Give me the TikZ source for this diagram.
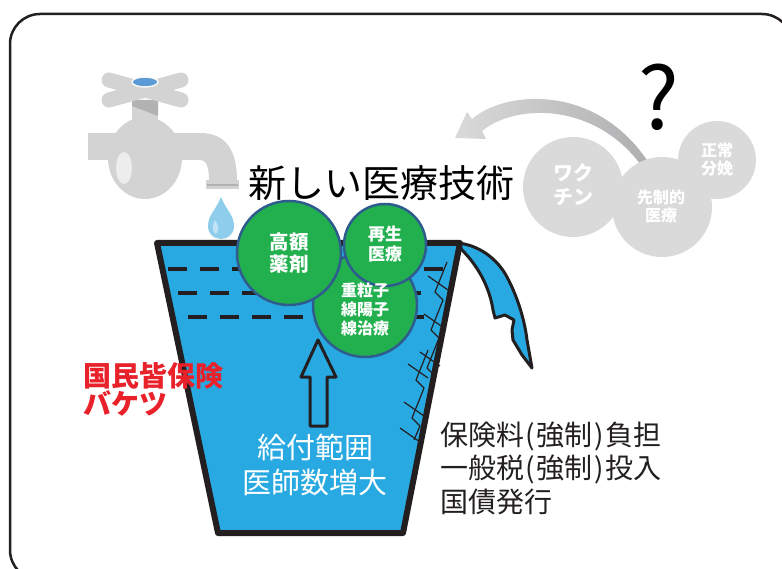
\documentclass[tikz,border=0pt]{standalone}
\usepackage{fontspec}
\setmainfont{Noto Sans CJK JP}

\definecolor{bucketblue}{HTML}{29A9E1}
\definecolor{pillgreen}{HTML}{22B04E}
\definecolor{pillrim}{HTML}{2F5C8E}
\definecolor{foggray}{HTML}{DADADB}
\definecolor{fogdark}{HTML}{AEAEB0}
\definecolor{tapgray}{HTML}{D3D3D3}
\definecolor{tapdark}{HTML}{B2B2B2}
\definecolor{tapblue}{HTML}{5B9BD5}
\definecolor{dropblue}{HTML}{8ECDEC}
\definecolor{alarmred}{HTML}{E8212B}
\definecolor{inkgray}{HTML}{231F20}

% 括弧の前後を少しあける
\newcommand{\lpar}{\kern1pt(\kern2pt}
\newcommand{\rpar}{\kern2pt)\kern1pt}

\tikzset{
  pill/.style={fill=pillgreen, draw=pillrim, line width=2.5pt},
  fog/.style={fill=foggray},
  pilltext/.style 2 args={text=white, align=center, font=\bfseries\fontsize{#1}{#2}\selectfont, inner sep=0pt},
  waterline/.style={draw=inkgray, line width=4pt, dash pattern=on 19pt off 13pt},
  crack/.style={draw=inkgray, line width=1.2pt}
}

\begin{document}
\begin{tikzpicture}[x=1pt, y=-1pt, line join=round]
    \useasboundingbox (0,0) rectangle (782,569);

    % 枠
    \draw[inkgray, line width=2.5pt, rounded corners=30pt] (10,14) rectangle (792,580);

    % 蛇口
    \fill[tapgray] (88,133) rectangle (206,160);
    \fill[tapgray] (145,158) ellipse [x radius=37, y radius=41];
    \fill[tapgray] (200,133) .. controls (226,133) and (237,150) .. (237,181)
        -- (209,181) .. controls (209,168) and (207,160) .. (200,160) -- cycle;
    \fill[tapgray] (206,180) rectangle (239,189);
    \draw[tapdark, line width=1.2pt] (207,185) -- (238,185);
    \fill[white!60!tapgray] (124,168) ellipse [x radius=8, y radius=16];
    \fill[tapgray] (132,100) rectangle (158,125);
    \fill[tapdark] (132,100) -- (158,100) -- (158,116) -- (132,106) -- cycle;
    \draw[tapgray, line width=15pt, line cap=round] (109,80) -- (181,100);
    \draw[tapgray, line width=15pt, line cap=round] (109,100) -- (181,80);
    \filldraw[fill=tapblue, draw=white!80!tapgray, line width=1.5pt] (145,82) ellipse [x radius=13, y radius=5];

    % しずく
    \fill[dropblue] (221,197) .. controls (216,210) and (208,215) .. (208,226)
        .. controls (208,234) and (214,239) .. (221,239)
        .. controls (228,239) and (234,234) .. (234,226)
        .. controls (234,215) and (226,210) .. (221,197);
    \fill[white!45!dropblue] (215,220) .. controls (212,226) and (212,232) .. (216,234)
        .. controls (219,231) and (219,225) .. (215,220);

    % あふれる水
    \filldraw[fill=bucketblue, draw=inkgray, line width=3pt]
        (458,243) .. controls (478,245) and (497,258) .. (507,277)
        .. controls (515,292) and (524,315) .. (527,340)
        -- (532,368) -- (522,355) -- (513,340) -- (512,330) -- (514,320)
        -- (505,315) -- (495,318) -- (493,310)
        .. controls (490,290) and (480,268) .. (462,250) -- cycle;

    % バケツ
    \filldraw[fill=bucketblue, draw=inkgray, line width=6pt] (157,243) -- (460,243) -- (403,533) -- (218,533) -- cycle;

    % 水位線
    \draw[waterline] (168,269) -- (446,269);
    \draw[waterline] (178,293) -- (430,293);
    \draw[waterline] (188,317) -- (424,317);

    % ひび割れ
    \draw[crack] (447,262) -- (435,292) -- (443,300) -- (431,330) -- (439,338) -- (427,368) -- (433,374);
    \draw[crack] (428,350) -- (416,380) -- (424,388) -- (412,418) -- (420,426) -- (414,440);
    \foreach \x/\y in {428/276, 424/314, 420/352, 408/364, 404/402, 400/428} {
        \draw[crack] (\x,\y) -- (\x+20,\y+14);
    }

    % 上向き矢印
    \filldraw[fill=bucketblue, draw=inkgray, line width=3pt]
        (318,340) -- (336,377) -- (327,377) -- (327,426) -- (310,426) -- (310,377) -- (301,377) -- cycle;

    % 新しい医療技術（緑）
    \filldraw[pill] (365,305) circle [radius=52];
    \filldraw[pill] (289,253) circle [radius=52];
    \filldraw[pill] (385,245) circle [radius=41];
    \node[pilltext={19.5}{22}] (drug) at (289,253) {高額\\薬剤};
    \node[pilltext={17}{20}] (regen) at (385,244) {再生\\医療};
    \node[pilltext={16}{19}] (ion) at (365,309) {重粒子\\線陽子\\線治療};

    % 灰色の矢印
    \shade[left color=foggray, middle color=foggray, right color=fogdark]
        (472,119) .. controls (505,90) and (600,82) .. (652,168)
        -- (643,168) .. controls (597,102) and (516,103) .. (482,131)
        -- (486,139) -- (455,138) -- (467,112) -- cycle;

    % 灰色の円
    \fill[fog] (573,187) circle [radius=50];
    \fill[fog] (717,160) circle [radius=39];
    \fill[fog] (662,207) circle [radius=50];
    \node[pilltext={20}{24}] (vaccine) at (573,185) {ワク\\チン};
    \node[pilltext={16}{18}] (precare) at (661,206) {先制的\\医療};
    \node[pilltext={16}{18}] (birth) at (717,159) {正常\\分娩};
    \node[font=\fontsize{86}{90}\selectfont, inner sep=0pt] (quest) at (659,97) {?};

    % 文字
    \node[font=\fontsize{38}{40}\selectfont, inner sep=0pt] (title) at (381,183) {新しい医療技術};
    \node[font=\bfseries\fontsize{28}{28}\selectfont, text=alarmred, align=left, anchor=west, inner sep=0pt]
        (bucket) at (83,389) {国民皆保険\\バケツ};
    \node[font=\fontsize{29}{35}\selectfont, text=white, align=center, inner sep=0pt]
        (benefit) at (315,465) {給付範囲\\医師数増大};
    \node[font=\fontsize{28}{33.5}\selectfont, text=inkgray, align=left, anchor=west, inner sep=0pt]
        (funds) at (440,468) {保険料\lpar 強制\rpar 負担\\一般税\lpar 強制\rpar 投入\\国債発行};
\end{tikzpicture}
\end{document}
